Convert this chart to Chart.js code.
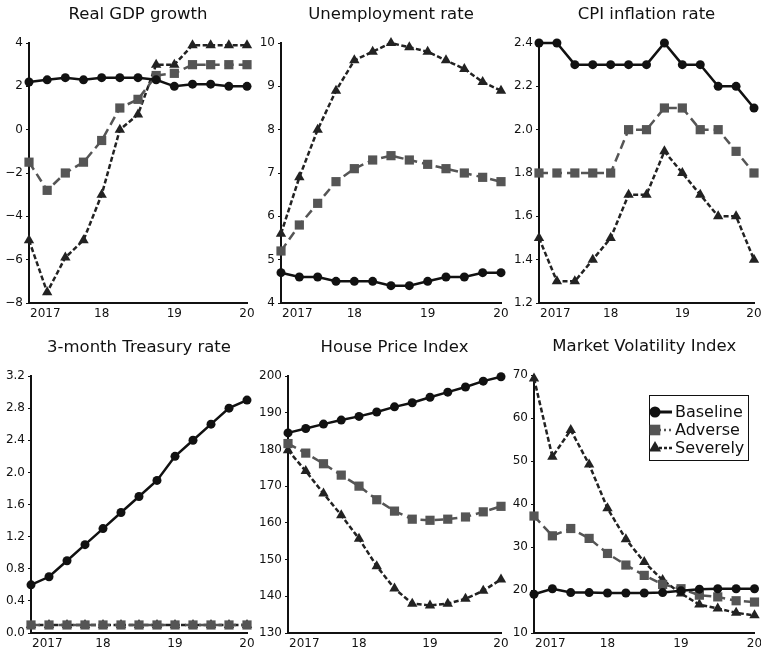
<!DOCTYPE html>
<html>
<head>
<meta charset="utf-8">
<script src="https://cdn.jsdelivr.net/npm/chart.js@4.4.1/dist/chart.umd.min.js"></script>
<style>
  html, body { margin: 0; padding: 0; background: #fff; }
  #wrap { position: relative; width: 761px; height: 654px; overflow: hidden; }
  canvas { position: absolute; }
</style>
</head>
<body>
<div id="wrap">
  <canvas id="gdp" width="254" height="327" style="left:0;top:0"></canvas>
  <canvas id="unemp" width="254" height="327" style="left:254px;top:0"></canvas>
  <canvas id="cpi" width="254" height="327" style="left:507px;top:0"></canvas>
  <canvas id="tbill" width="254" height="327" style="left:0;top:327px"></canvas>
  <canvas id="hpi" width="254" height="327" style="left:254px;top:327px"></canvas>
  <canvas id="vix" width="254" height="327" style="left:507px;top:327px"></canvas>
</div>
<script>
// quarterly path, 2017Q1 - 2020Q1
var quarters = ['2017Q1', '2017Q2', '2017Q3', '2017Q4', '2018Q1', '2018Q2', '2018Q3',
                '2018Q4', '2019Q1', '2019Q2', '2019Q3', '2019Q4', '2020Q1'];
var yearLabels = ['2017', '18', '19', '20'];
var scenarioNames = ['Baseline', 'Adverse', 'Severely'];

var gdpBaseline = [2.2, 2.3, 2.4, 2.3, 2.4, 2.4, 2.4, 2.3, 2.0, 2.1, 2.1, 2.0, 2.0];
var gdpAdverse  = [-1.5, -2.8, -2.0, -1.5, -0.5, 1.0, 1.4, 2.5, 2.6, 3.0, 3.0, 3.0, 3.0];
var gdpSevere   = [-5.1, -7.5, -5.9, -5.1, -3.0, 0.0, 0.7, 3.0, 3.0, 3.9, 3.9, 3.9, 3.9];

var unempBaseline = [4.7, 4.6, 4.6, 4.5, 4.5, 4.5, 4.4, 4.4, 4.5, 4.6, 4.6, 4.7, 4.7];
var unempAdverse  = [5.2, 5.8, 6.3, 6.8, 7.1, 7.3, 7.4, 7.3, 7.2, 7.1, 7.0, 6.9, 6.8];
var unempSevere   = [5.6, 6.9, 8.0, 8.9, 9.6, 9.8, 10.0, 9.9, 9.8, 9.6, 9.4, 9.1, 8.9];

var cpiBaseline = [2.4, 2.4, 2.3, 2.3, 2.3, 2.3, 2.3, 2.4, 2.3, 2.3, 2.2, 2.2, 2.1];
var cpiAdverse  = [1.8, 1.8, 1.8, 1.8, 1.8, 2.0, 2.0, 2.1, 2.1, 2.0, 2.0, 1.9, 1.8];
var cpiSevere   = [1.5, 1.3, 1.3, 1.4, 1.5, 1.7, 1.7, 1.9, 1.8, 1.7, 1.6, 1.6, 1.4];

var tbillBaseline = [0.6, 0.7, 0.9, 1.1, 1.3, 1.5, 1.7, 1.9, 2.2, 2.4, 2.6, 2.8, 2.9];
var tbillAdverse  = [0.1, 0.1, 0.1, 0.1, 0.1, 0.1, 0.1, 0.1, 0.1, 0.1, 0.1, 0.1, 0.1];
var tbillSevere   = [0.1, 0.1, 0.1, 0.1, 0.1, 0.1, 0.1, 0.1, 0.1, 0.1, 0.1, 0.1, 0.1];

var hpiBaseline = [184.5, 185.7, 186.9, 188.0, 189.0, 190.2, 191.6, 192.7, 194.2, 195.6, 197.0, 198.6, 199.8];
var hpiAdverse  = [181.6, 179.0, 176.1, 173.0, 170.0, 166.3, 163.2, 161.0, 160.7, 161.0, 161.6, 163.0, 164.5];
var hpiSevere   = [179.8, 174.1, 168.0, 162.1, 155.7, 148.2, 142.1, 138.0, 137.5, 138.0, 139.3, 141.5, 144.6];

var vixBaseline = [19.0, 20.3, 19.4, 19.4, 19.3, 19.3, 19.3, 19.4, 19.8, 20.2, 20.3, 20.3, 20.3];
var vixAdverse  = [37.2, 32.6, 34.3, 32.0, 28.5, 25.8, 23.4, 21.3, 20.3, 18.8, 18.4, 17.5, 17.2];
var vixSevere   = [69.2, 51.0, 57.2, 49.2, 39.0, 31.8, 26.5, 22.3, 19.2, 16.6, 15.7, 14.7, 14.1];

Chart.defaults.font.family = '"DejaVu Sans", sans-serif';
Chart.defaults.font.size = 12;
Chart.defaults.color = '#111';

// baseline solid with circles, adverse long dashes with squares, severe short dashes with triangles
var styles = [
  { borderColor: '#111', backgroundColor: '#111', borderDash: [], pointStyle: 'circle', pointRadius: 4.5 },
  { borderColor: '#555', backgroundColor: '#555', borderDash: [9, 5], pointStyle: 'rect', pointRadius: 6.5 },
  { borderColor: '#222', backgroundColor: '#222', borderDash: [5, 2.5], pointStyle: 'triangle', pointRadius: 6 }
];
var keyDash = [[], [2, 3], [3, 2]];

// panel title, year labels under the x axis and the boxed key
var panelDecor = {
  id: 'panelDecor',
  afterDraw: function (chart, args, opts) {
    var ctx = chart.ctx, area = chart.chartArea, x = chart.scales.x;
    ctx.save();
    ctx.fillStyle = '#111';
    ctx.font = '16.5px "DejaVu Sans"';
    ctx.textAlign = 'center';
    ctx.textBaseline = 'middle';
    ctx.fillText(opts.title, (area.left + area.right) / 2, area.top - 28);

    ctx.font = '12px "DejaVu Sans"';
    yearLabels.forEach(function (lab, i) {
      var px = x.getPixelForValue(i * 4);
      ctx.textAlign = i === 0 ? 'left' : 'center';
      ctx.fillText(lab, i === 0 ? px + 1 : px, area.bottom + 10.5);
    });

    if (opts.legend) {
      var bx = area.left + 115, by = area.top + 20;
      ctx.fillStyle = '#fff';
      ctx.fillRect(bx, by, 99, 65);
      ctx.strokeStyle = '#111';
      ctx.lineWidth = 1;
      ctx.strokeRect(bx + 0.5, by + 0.5, 99, 65);
      chart.data.datasets.forEach(function (ds, i) {
        var cy = by + 17 + i * 18;
        ctx.strokeStyle = ds.borderColor;
        ctx.lineWidth = i === 0 ? 3 : 2.5;
        ctx.setLineDash(keyDash[i]);
        ctx.beginPath();
        ctx.moveTo(bx + 10, cy);
        ctx.lineTo(bx + 23, cy);
        ctx.stroke();
        ctx.setLineDash([]);
        ctx.fillStyle = ds.backgroundColor;
        Chart.helpers.drawPoint(ctx, {
          pointStyle: ds.pointStyle, radius: ds.pointRadius + 1, rotation: 0, borderWidth: 0
        }, bx + 6, cy);
        ctx.fillStyle = '#111';
        ctx.font = '16px "DejaVu Sans"';
        ctx.textAlign = 'left';
        ctx.fillText(ds.label, bx + 26, cy + 1);
      });
    }
    ctx.restore();
  }
};

function makePanel(id, title, series, yMin, yMax, yStep, decimals, axisX, topPad, xAxisH, rightPad, legend) {
  var datasets = series.map(function (vals, i) {
    return Object.assign({
      label: scenarioNames[i],
      data: vals,
      tension: 0,
      fill: false,
      clip: false,
      borderWidth: 2.5,
      pointBorderWidth: 0
    }, styles[i]);
  });

  return new Chart(document.getElementById(id), {
    type: 'line',
    data: { labels: quarters, datasets: datasets },
    options: {
      responsive: false,
      animation: false,
      layout: { padding: { top: topPad, left: 0, right: rightPad, bottom: 0 } },
      plugins: {
        legend: { display: false },
        tooltip: { enabled: false },
        panelDecor: { title: title, legend: legend }
      },
      scales: {
        x: {
          type: 'category',
          offset: false,
          grid: { display: false },
          border: { display: true, color: '#111', width: 2 },
          ticks: { display: false },
          afterFit: function (s) { s.height = xAxisH; }
        },
        y: {
          min: yMin,
          max: yMax,
          grid: { display: true, drawOnChartArea: false, drawTicks: true, tickLength: 3, color: '#111' },
          border: { display: true, color: '#111', width: 2 },
          ticks: {
            stepSize: yStep,
            autoSkip: false,
            padding: 3,
            color: '#111',
            callback: function (v) {
              return Number(v).toFixed(decimals).replace('-', '\u2212');
            }
          },
          afterFit: function (s) { s.width = axisX; }
        }
      }
    },
    plugins: [panelDecor]
  });
}

makePanel('gdp', 'Real GDP growth', [gdpBaseline, gdpAdverse, gdpSevere], -8, 4, 2, 0, 29, 43, 24, 7, false);
makePanel('unemp', 'Unemployment rate', [unempBaseline, unempAdverse, unempSevere], 4, 10, 1, 0, 27, 43, 24, 7, false);
makePanel('cpi', 'CPI inflation rate', [cpiBaseline, cpiAdverse, cpiSevere], 1.2, 2.4, 0.2, 1, 32, 43, 24, 7, false);
makePanel('tbill', '3-month Treasury rate', [tbillBaseline, tbillAdverse, tbillSevere], 0, 3.2, 0.4, 1, 31, 49, 21, 7, false);
makePanel('hpi', 'House Price Index', [hpiBaseline, hpiAdverse, hpiSevere], 130, 200, 10, 0, 34, 49, 21, 7, false);
makePanel('vix', 'Market Volatility Index', [vixBaseline, vixAdverse, vixSevere], 10, 70, 10, 0, 27, 48, 21, 6, true);
</script>
</body>
</html>
